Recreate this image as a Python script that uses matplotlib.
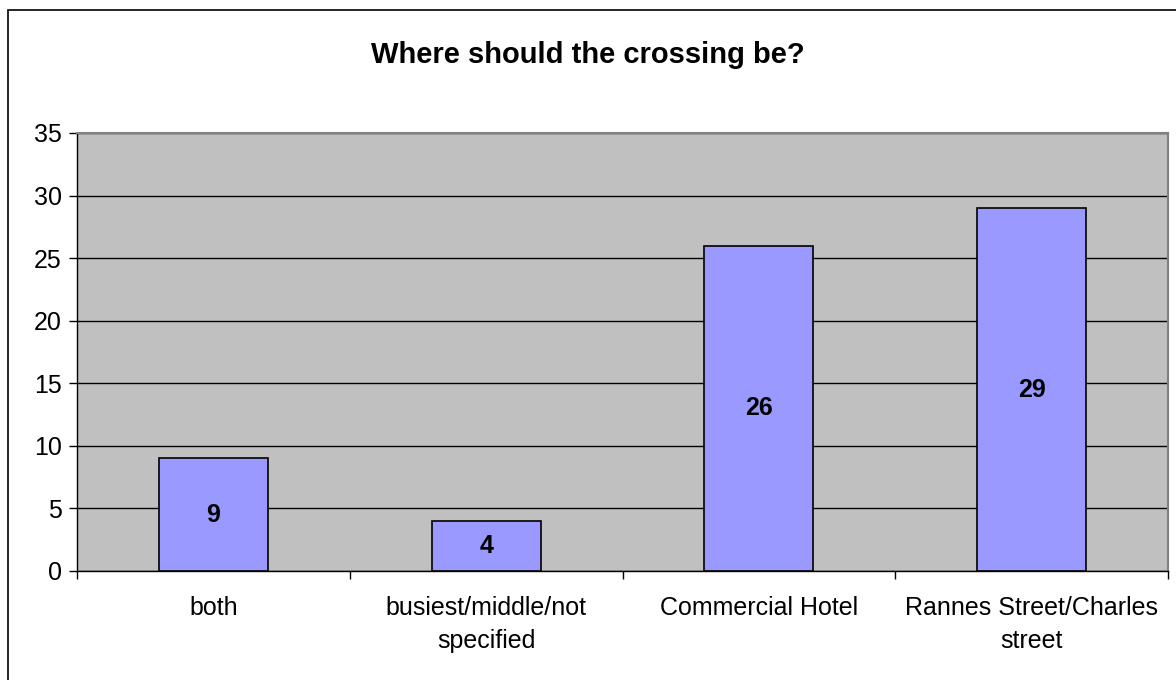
import matplotlib
matplotlib.use("Agg")
import matplotlib.pyplot as plt
from matplotlib.patches import Rectangle

categories = ["both", "busiest/middle/not\nspecified", "Commercial Hotel", "Rannes Street/Charles\nstreet"]
values = [9, 4, 26, 29]
yticks = [0, 5, 10, 15, 20, 25, 30, 35]
title = "Where should the crossing be?"

plt.rcParams['font.family'] = ['Liberation Sans', 'DejaVu Sans']

W, H = 1176, 680
fig = plt.figure(figsize=(W/100, H/100), dpi=100)
fig.patch.set_facecolor('white')
# outer chart border
fig.add_artist(Rectangle((8/W, -0.01), 1.02 - 8/W, (H-10)/H + 0.01, transform=fig.transFigure,
                         fill=False, edgecolor='black', linewidth=1.2))

left, right, top, bottom = 77, 1168, 133, 571
ax = fig.add_axes([left/W, 1 - bottom/H, (right-left)/W, (bottom-top)/H])
ax.set_facecolor('#C0C0C0')

x = list(range(len(categories)))
bars = ax.bar(x, values, width=0.4, color='#9999FF', edgecolor='black', linewidth=1.2, zorder=3)
ax.set_xlim(-0.5, len(categories) - 0.5)
ax.set_ylim(0, 35)
ax.set_yticks(yticks)
ax.set_yticklabels([str(t) for t in yticks], fontsize=18)
ax.yaxis.grid(True, color='black', linewidth=1.0, zorder=1)
ax.set_axisbelow(True)

ax.set_xticks([i - 0.5 for i in range(len(categories) + 1)])
ax.set_xticklabels([])
ax.set_xticks(x, minor=True)
ax.set_xticklabels(categories, minor=True, fontsize=18, linespacing=1.45)
ax.tick_params(axis='x', which='minor', length=0, pad=18)
ax.tick_params(axis='x', which='major', length=6, direction='out', width=1)
ax.tick_params(axis='y', length=6, direction='out', width=1, pad=5)

for s in ['top', 'right']:
    ax.spines[s].set_color('#808080')
    ax.spines[s].set_linewidth(1.5)
for s in ['left', 'bottom']:
    ax.spines[s].set_color('black')
    ax.spines[s].set_linewidth(1.0)

for b, v in zip(bars, values):
    ax.text(b.get_x() + b.get_width()/2, v/2, str(v), ha='center', va='center',
            fontsize=18, fontweight='bold', zorder=4)

fig.text(0.5, 1 - 55/H, title, ha='center', va='center', fontsize=21, fontweight='bold')

fig.savefig("out.png", dpi=100)
